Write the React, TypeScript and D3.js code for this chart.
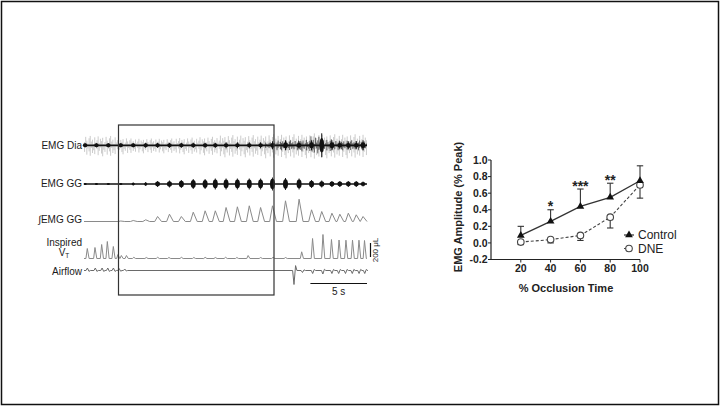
import React from 'react';
import * as d3 from 'd3';

const W = 720;
const H = 406;
const FONT = 'Arial, "Liberation Sans", sans-serif';

// ---- right panel: EMG amplitude vs % occlusion time
const occlusionPct = [20, 40, 60, 80, 100];
const controlMean = [0.09, 0.26, 0.44, 0.55, 0.75];
const controlSem = [0.11, 0.14, 0.21, 0.17, 0.18];
const dneMean = [0.01, 0.04, 0.09, 0.31, 0.7];
const dneSem = [0.03, 0.04, 0.06, 0.13, 0.16];
const sigStars = ['', '*', '***', '**', ''];
const yTickValues = [-0.2, 0.0, 0.2, 0.4, 0.6, 0.8, 1.0];
const xTickValues = [20, 40, 60, 80, 100];

// ---- left panel: recorded traces (time in s, amplitudes in trace units)
const breathTimes = [0.1, 1.1, 2.15, 3.25, 4.35, 5.45, 6.5, 7.55, 8.6, 9.65, 10.7, 11.6, 12.55, 13.55, 14.6, 15.6, 16.65, 17.8, 19.0, 20.1, 21.0, 21.9, 22.6, 23.35, 24.05, 24.65];
const diaBurst = [2, 2, 2, 2, 2, 2.5, 2.5, 2.5, 2.5, 2.5, 2.5, 2.5, 3, 3, 3, 3, 4, 5, 4, 5, 12, 5, 4, 4, 4, 5];
const ggBurst = [0.8, 0.8, 0.8, 1, 1.5, 2, 3, 3.5, 4, 5, 5, 5.5, 5.5, 5.5, 5.5, 5.5, 6.5, 6, 5.5, 4, 3.5, 3, 3, 3, 3, 2.5];
const intGG = [0, 0, 0, 0.5, 1, 1.7, 5, 7.3, 5, 9.3, 10.7, 10.7, 14, 14.7, 15.7, 14, 15.7, 20.7, 22.3, 11.7, 10, 8.3, 7.3, 8.3, 6.7, 5];
// raw diaphragm EMG envelope, one value per second
const diaGreyEnv = [11, 11, 11, 9, 8, 8, 8, 8, 9, 9, 10, 10, 12, 12, 12, 12, 13, 13, 13, 13, 14, 13, 13, 13, 13];
const diaDarkEnv = [0, 0, 0, 0, 0, 0, 0, 0, 0, 0, 0, 0, 0, 0, 0, 0, 3, 5, 5, 6, 9, 6, 5, 5, 5];
const spikePattern = [0.35, 0.9, 0.5, 0.2, 0.75, 1, 0.4, 0.6, 0.15, 0.85, 0.3, 0.55, 0.95, 0.25, 0.7, 0.45, 0.8, 0.1];
const inspTimes = [0.29, 0.97, 1.56, 2.06, 2.59, 3.0, 3.3, 3.75, 4.4, 5.5, 6.5, 7.5, 8.6, 9.7, 10.7, 11.6, 12.5, 13.5, 14.5, 15.6, 16.7, 17.8, 19.23, 20.19, 21.11, 21.86, 22.53, 23.14, 23.72, 24.29, 24.78];
const inspAmps = [10, 11, 14, 17, 12, 4, 3, 3, 1.2, 1, 1.2, 1, 1.2, 1, 1.2, 1, 1.2, 1, 3, 1, 1.2, 1, 6.7, 20, 24, 19, 18.5, 18.3, 18.3, 18.3, 18];
const airTimes = [0.3, 1.0, 1.6, 2.1, 2.6, 3.1, 3.6, 18.55, 19.3, 20.2, 21.1, 21.9, 22.5, 23.1, 23.7, 24.3, 24.8];
const airAmps = [2.5, 2.5, 2.5, 2.5, 2.5, 2, 1.5, -14, -2, -3, -3.5, -3, -3, -3, -3, -3, -3];

// trace baselines
const base = { dia: 145.3, gg: 184, igg: 221.5, insp: 258.5, air: 270.5 };

const tScale = d3.scaleLinear().domain([0, 25]).range([84, 367]);
const ampScale = d3.scaleLinear().domain([0, 1]).range([0, 1]);

const traceLine = d3.line<[number, number]>().x(d => tScale(d[0])).y(d => d[1]);

function peakTrace(times: number[], amps: number[], y0: number, rise: number, fall: number) {
  const pts: [number, number][] = [[0, y0]];
  times.forEach((tt, i) => {
    if (amps[i] <= 0) return;
    pts.push([tt - rise, y0], [tt, y0 - ampScale(amps[i])], [tt + fall, y0]);
  });
  pts.push([25, y0]);
  return traceLine(pts) || '';
}

function biphasicTrace(times: number[], amps: number[], y0: number) {
  const pts: [number, number][] = [[0, y0]];
  times.forEach((tt, i) => {
    const a = ampScale(amps[i]);
    pts.push([tt - 0.12, y0], [tt, y0 - a], [tt + 0.14, y0 + a * 0.35], [tt + 0.26, y0]);
  });
  pts.push([25, y0]);
  return traceLine(pts) || '';
}

const spikeTimes = d3.range(0.05, 25, 0.1);

const TracePanel = () => {
  const labelStyle = { fontFamily: FONT, fontSize: 10, fill: '#1a1a1a' } as const;
  return (
    <g>
      {/* EMG Dia raw: grey texture, dark spikes, baseline, bursts */}
      <g stroke="#a8a8a8" strokeWidth={0.8} opacity={0.75}>
        {spikeTimes.map((tt, i) => {
          const env = diaGreyEnv[Math.min(24, Math.floor(tt))];
          const up = env * spikePattern[i % spikePattern.length] * 0.85;
          const dn = env * spikePattern[(i + 7) % spikePattern.length];
          return <line key={i} x1={tScale(tt)} x2={tScale(tt)} y1={base.dia - up} y2={base.dia + dn} />;
        })}
      </g>
      <g stroke="#2a2a2a" strokeWidth={0.7}>
        {spikeTimes.map((tt, i) => {
          const env = diaDarkEnv[Math.min(24, Math.floor(tt))];
          if (!env) return null;
          const up = env * spikePattern[(i + 3) % spikePattern.length];
          const dn = env * spikePattern[(i + 11) % spikePattern.length];
          return <line key={i} x1={tScale(tt)} x2={tScale(tt)} y1={base.dia - up} y2={base.dia + dn} />;
        })}
      </g>
      <line x1={tScale(0)} x2={tScale(25)} y1={base.dia} y2={base.dia} stroke="#111" strokeWidth={1.8} />
      {breathTimes.map((tt, i) => (
        <g key={i}>
          <line x1={tScale(tt)} x2={tScale(tt)} y1={base.dia - diaBurst[i]} y2={base.dia + diaBurst[i]} stroke="#111" strokeWidth={1} />
          <ellipse cx={tScale(tt)} cy={base.dia} rx={2.3} ry={Math.max(2, diaBurst[i] * 0.6)} fill="#111" />
        </g>
      ))}

      {/* EMG GG raw */}
      <line x1={tScale(0)} x2={tScale(25)} y1={base.gg} y2={base.gg} stroke="#111" strokeWidth={1.5} />
      {breathTimes.map((tt, i) => (
        <g key={i}>
          <line x1={tScale(tt)} x2={tScale(tt)} y1={base.gg - ggBurst[i]} y2={base.gg + ggBurst[i]} stroke="#111" strokeWidth={0.9} />
          <ellipse cx={tScale(tt)} cy={base.gg} rx={ggBurst[i] > 2 ? 2.5 : 1.6} ry={Math.max(1, ggBurst[i] * 0.8)} fill="#111" />
        </g>
      ))}

      {/* integrated GG */}
      <path d={peakTrace(breathTimes, intGG, base.igg, 0.25, 0.35)} fill="none" stroke="#8a8a8a" strokeWidth={1} />

      {/* inspired volume */}
      <path d={peakTrace(inspTimes, inspAmps, base.insp, 0.12, 0.16)} fill="none" stroke="#8a8a8a" strokeWidth={1} />

      {/* airflow */}
      <path d={biphasicTrace(airTimes, airAmps, base.air)} fill="none" stroke="#6a6a6a" strokeWidth={1} />

      {/* occlusion window */}
      <rect x={118.5} y={125} width={155.5} height={170} fill="none" stroke="#333" strokeWidth={1.2} />

      {/* channel labels */}
      <text x={82} y={base.dia} dy="0.35em" textAnchor="end" {...labelStyle}>EMG Dia</text>
      <text x={82} y={183.5} dy="0.35em" textAnchor="end" {...labelStyle}>EMG GG</text>
      <text x={82} y={219} dy="0.35em" textAnchor="end" {...labelStyle}>∫EMG GG</text>
      <text x={82} y={242} dy="0.35em" textAnchor="end" {...labelStyle}>Inspired</text>
      <text x={64} y={252} dy="0.35em" textAnchor="middle" {...labelStyle}>
        V<tspan fontSize={6.5} dy={2.5}>T</tspan>
      </text>
      <text x={82} y={271.5} dy="0.35em" textAnchor="end" {...labelStyle}>Airflow</text>

      {/* scale bars */}
      <line x1={tScale(20)} x2={tScale(25)} y1={283.5} y2={283.5} stroke="#111" strokeWidth={1} />
      <text x={(tScale(20) + tScale(25)) / 2} y={291.5} dy="0.35em" textAnchor="middle" {...labelStyle}>5 s</text>
      <line x1={370.5} x2={370.5} y1={243} y2={257} stroke="#111" strokeWidth={1.2} />
      <text transform="translate(377.5,250) rotate(-90)" textAnchor="middle" fontFamily={FONT} fontSize={8} fill="#1a1a1a">200 μL</text>
    </g>
  );
};

const GraphPanel = () => {
  const x = d3.scaleLinear().domain([0, 100]).range([491, 640]);
  const y = d3.scaleLinear().domain([-0.2, 1.0]).range([259.5, 160]);
  const lineGen = d3.line<number>().x((_, i) => x(occlusionPct[i])).y(d => y(d));
  const tri = d3.symbol(d3.symbolTriangle, 26)() || '';
  const tickStyle = { fontFamily: FONT, fontSize: 10.5, fontWeight: 700, fill: '#222' } as const;
  const cap = 3.2;

  return (
    <g>
      {/* axes */}
      <line x1={x(0)} x2={x(0)} y1={y(1.0)} y2={y(-0.2)} stroke="#222" strokeWidth={1.2} />
      <line x1={x(0)} x2={x(100)} y1={y(-0.2)} y2={y(-0.2)} stroke="#222" strokeWidth={1.2} />
      {yTickValues.map(v => (
        <g key={v}>
          <line x1={x(0) - 3} x2={x(0)} y1={y(v)} y2={y(v)} stroke="#222" strokeWidth={1} />
          <text x={x(0) - 3.5} y={y(v)} dy="0.35em" textAnchor="end" {...tickStyle}>{d3.format('.1f')(v).replace('−', '-')}</text>
        </g>
      ))}
      {xTickValues.map(v => (
        <g key={v}>
          <line x1={x(v)} x2={x(v)} y1={y(-0.2)} y2={y(-0.2) + 3} stroke="#222" strokeWidth={1} />
          <text x={x(v)} y={268.5} dy="0.35em" textAnchor="middle" {...tickStyle}>{v}</text>
        </g>
      ))}
      <text x={566} y={288} dy="0.35em" textAnchor="middle" fontFamily={FONT} fontSize={11} fontWeight={700} fill="#222">% Occlusion Time</text>
      <text transform="translate(458,207) rotate(-90)" dy="0.35em" textAnchor="middle" fontFamily={FONT} fontSize={11} fontWeight={700} fill="#222">EMG Amplitude (% Peak)</text>

      {/* error bars */}
      {occlusionPct.map((p, i) => (
        <g key={'ce' + p} stroke="#333" strokeWidth={1.1}>
          <line x1={x(p)} x2={x(p)} y1={y(controlMean[i])} y2={y(controlMean[i] + controlSem[i])} />
          <line x1={x(p) - cap} x2={x(p) + cap} y1={y(controlMean[i] + controlSem[i])} y2={y(controlMean[i] + controlSem[i])} />
        </g>
      ))}
      {occlusionPct.map((p, i) => (
        <g key={'de' + p} stroke="#333" strokeWidth={1.1}>
          <line x1={x(p)} x2={x(p)} y1={y(dneMean[i])} y2={y(dneMean[i] - dneSem[i])} />
          <line x1={x(p) - cap} x2={x(p) + cap} y1={y(dneMean[i] - dneSem[i])} y2={y(dneMean[i] - dneSem[i])} />
        </g>
      ))}

      {/* series */}
      <path d={lineGen(dneMean) || ''} fill="none" stroke="#444" strokeWidth={1.1} strokeDasharray="3,2" />
      <path d={lineGen(controlMean) || ''} fill="none" stroke="#333" strokeWidth={1.3} />
      {occlusionPct.map((p, i) => (
        <circle key={'dm' + p} cx={x(p)} cy={y(dneMean[i])} r={3.3} fill="#fff" stroke="#444" strokeWidth={1.1} />
      ))}
      {occlusionPct.map((p, i) => (
        <path key={'cm' + p} d={tri} transform={`translate(${x(p)},${y(controlMean[i])})`} fill="#111" />
      ))}

      {/* significance */}
      {occlusionPct.map((p, i) => sigStars[i] ? (
        <text key={'s' + p} x={x(p)} y={y(controlMean[i] + controlSem[i]) + 1.5} textAnchor="middle" fontFamily={FONT} fontSize={14} fontWeight={700} fill="#222">{sigStars[i]}</text>
      ) : null)}

      {/* legend */}
      <line x1={624} x2={634} y1={235} y2={235} stroke="#333" strokeWidth={1.2} />
      <path d={tri} transform="translate(629,235)" fill="#111" />
      <text x={638} y={235} dy="0.35em" fontFamily={FONT} fontSize={12} fill="#222">Control</text>
      <line x1={624} x2={634} y1={248.5} y2={248.5} stroke="#444" strokeWidth={1.1} strokeDasharray="3,2" />
      <circle cx={629} cy={248.5} r={3.3} fill="#fff" stroke="#444" strokeWidth={1.1} />
      <text x={638} y={248.5} dy="0.35em" fontFamily={FONT} fontSize={12} fill="#222">DNE</text>
    </g>
  );
};

export default function App() {
  return (
    <svg width={W} height={H} viewBox={`0 0 ${W} ${H}`} style={{ position: 'absolute', left: 0, top: 0, background: '#fff' }}>
      <rect x={0} y={0} width={W} height={H} fill="#fff" />
      <rect x={1.5} y={1.5} width={W - 3} height={H - 3} fill="none" stroke="#111" strokeWidth={1.5} />
      <TracePanel />
      <GraphPanel />
    </svg>
  );
}
